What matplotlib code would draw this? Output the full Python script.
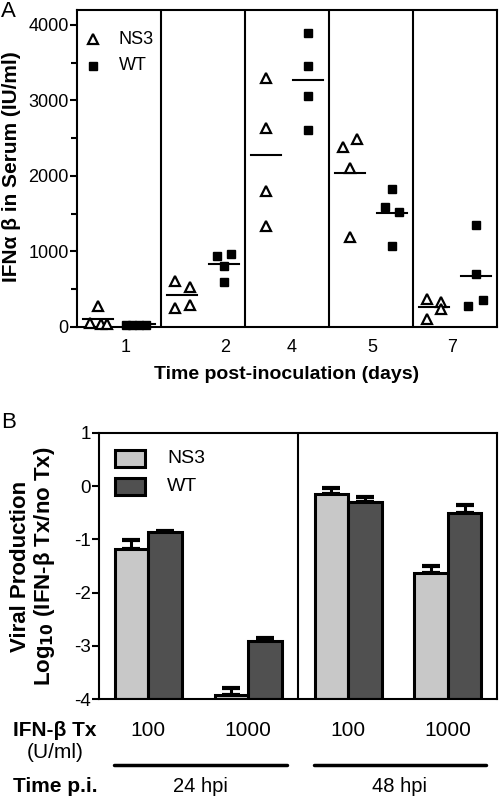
import matplotlib.pyplot as plt
import matplotlib.transforms as mtransforms

plt.rcParams['font.family'] = ['Liberation Sans', 'DejaVu Sans']

# Panel A data: IFN-alpha/beta in serum (IU/ml)
days = ['1', '2', '4', '5', '7']
ns3_values = [
    [275, 50, 40, 30],
    [606, 520, 245, 285],
    [3300, 2628, 1802, 1334],
    [2384, 2495, 2098, 1184],
    [363, 323, 98, 230],
]
wt_values = [
    [25, 25, 25, 25],
    [935, 970, 800, 590],
    [3900, 3457, 3060, 2605],
    [1824, 1581, 1524, 1073],
    [1343, 694, 278, 354],
]
ns3_means = [100, 415, 2275, 2044, 257]
wt_means = [30, 825, 3264, 1501, 671]

# Panel B data: log10 viral production
doses = ['100', '1000', '100', '1000']
times = ['24 hpi', '48 hpi']
ns3_log = [-1.19, -3.92, -0.14, -1.63]
ns3_err = [0.17, 0.12, 0.11, 0.13]
wt_log = [-0.87, -2.91, -0.30, -0.51]
wt_err = [0.03, 0.06, 0.10, 0.15]

# jitter offsets inside each section (layout only)
ns3_jit = [
    [0.25, 0.16, 0.28, 0.36],
    [0.17, 0.35, 0.17, 0.35],
    [0.25, 0.25, 0.25, 0.25],
    [0.17, 0.33, 0.25, 0.25],
    [0.17, 0.33, 0.17, 0.33],
]
wt_jit = [
    [0.58, 0.66, 0.74, 0.82],
    [0.67, 0.83, 0.75, 0.75],
    [0.75, 0.75, 0.75, 0.75],
    [0.75, 0.67, 0.83, 0.75],
    [0.75, 0.75, 0.65, 0.83],
]
tick_pos = [0.58, 1.76, 2.56, 3.52, 4.46]

fig = plt.figure(figsize=(5, 7.98), dpi=100)

# ---------- Panel A ----------
ax = fig.add_axes([0.154, 0.5906, 0.840, 0.397])
for i in range(len(days)):
    xs = [i + j for j in ns3_jit[i]]
    ax.plot(xs, ns3_values[i], linestyle='none', marker='^', ms=7.5,
            mfc='white', mec='black', mew=1.6, clip_on=False, zorder=3)
    xs = [i + j for j in wt_jit[i]]
    ax.plot(xs, wt_values[i], linestyle='none', marker='s', ms=6,
            color='black', clip_on=False, zorder=3)
    ax.plot([i + 0.07, i + 0.43], [ns3_means[i]] * 2, color='black', lw=1.5, zorder=2)
    ax.plot([i + 0.57, i + 0.93], [wt_means[i]] * 2, color='black', lw=1.5, zorder=2)
    if i > 0:
        ax.axvline(i, color='black', lw=1.5)

ax.set_xlim(0, len(days))
ax.set_ylim(0, 4200)
ax.set_yticks([0, 1000, 2000, 3000, 4000])
ax.set_yticks([500, 1500, 2500, 3500], minor=True)
ax.set_xticks(tick_pos)
ax.set_xticklabels(days)
ax.tick_params(axis='x', length=0, labelsize=13, pad=9)
ax.tick_params(axis='y', which='major', length=5, width=1.5, labelsize=13, pad=1)
ax.tick_params(axis='y', which='minor', length=4, width=1.5)
for s in ax.spines.values():
    s.set_linewidth(1.5)
ax.set_xlabel('Time post-inoculation (days)', fontsize=14, fontweight='bold', labelpad=7)
ax.set_ylabel('IFN\u03b1 \u03b2 in Serum (IU/ml)', fontsize=15, fontweight='bold', va='center')
ax.yaxis.set_label_coords(-0.157, 0.505)

ax.plot([0.19], [3810], marker='^', ms=7.5, mfc='white', mec='black', mew=1.6, linestyle='none')
ax.plot([0.19], [3460], marker='s', ms=6, color='black', linestyle='none')
ax.text(0.5, 3810, 'NS3', fontsize=13, va='center')
ax.text(0.5, 3460, 'WT', fontsize=13, va='center')

fig.text(0.002, 0.999, 'A', fontsize=16, va='top')

# ---------- Panel B ----------
bx = fig.add_axes([0.198, 0.124, 0.796, 0.3336])
w = 0.335
x = list(range(len(doses)))
bx.bar([p - w / 2 for p in x], [v + 4 for v in ns3_log], w, bottom=-4,
       color='#c8c8c8', edgecolor='black', linewidth=2.2, zorder=2)
bx.bar([p + w / 2 for p in x], [v + 4 for v in wt_log], w, bottom=-4,
       color='#505050', edgecolor='black', linewidth=2.2, zorder=2)
bx.errorbar([p - w / 2 for p in x], ns3_log, yerr=[[0] * 4, ns3_err], fmt='none',
            ecolor='black', elinewidth=2.2, capsize=6.5, capthick=3, zorder=1)
bx.errorbar([p + w / 2 for p in x], wt_log, yerr=[[0] * 4, wt_err], fmt='none',
            ecolor='black', elinewidth=2.2, capsize=6.5, capthick=3, zorder=1)
bx.axvline(1.5, color='black', lw=1.5)
bx.set_xlim(-0.49, 3.49)
bx.set_ylim(-4, 1)
bx.set_yticks([-4, -3, -2, -1, 0, 1])
bx.set_yticklabels(['-4', '-3', '-2', '-1', '0', '1'])
bx.set_xticks([])
bx.tick_params(axis='y', length=5, width=1.5, labelsize=13.5, pad=1)
for s in bx.spines.values():
    s.set_linewidth(1.5)
bx.set_ylabel('Viral Production\nLog$_{\\mathbf{10}}$ (IFN-\u03b2 Tx/no Tx)', fontsize=16,
              fontweight='bold', linespacing=1.05, va='center')
bx.yaxis.set_label_coords(-0.165, 0.5)

# legend
bx.add_patch(plt.Rectangle((-0.33, 0.35), 0.30, 0.32, facecolor='#c8c8c8', edgecolor='black',
                           lw=2.2, zorder=3))
bx.add_patch(plt.Rectangle((-0.33, -0.16), 0.30, 0.32, facecolor='#505050', edgecolor='black',
                           lw=2.2, zorder=3))
bx.text(0.19, 0.51, 'NS3', fontsize=14, va='center')
bx.text(0.19, 0.0, 'WT', fontsize=14, va='center')

# labels under the bars
trans = mtransforms.blended_transform_factory(bx.transData, fig.transFigure)
for p, d in zip(x, doses):
    bx.text(p, 1 - 731 / 798, d, transform=trans, fontsize=15, ha='center', va='center')
for k, t in enumerate(times):
    left = x[2 * k] - w - 0.01
    right = x[2 * k + 1] + w + 0.05
    bx.plot([left, right], [1 - 765 / 798] * 2, transform=trans, color='black', lw=2.5,
            clip_on=False, solid_capstyle='round')
    bx.text((left + right) / 2, 1 - 786 / 798, t, transform=trans, fontsize=14.5,
            ha='center', va='center')

fig.text(0.026, 1 - 731 / 798, 'IFN-\u03b2 Tx', fontsize=15, fontweight='bold', va='center')
fig.text(0.11, 1 - 753 / 798, '(U/ml)', fontsize=15, ha='center', va='center')
fig.text(0.026, 1 - 786 / 798, 'Time p.i.', fontsize=15, fontweight='bold', va='center')
fig.text(0.002, 1 - 422 / 798, 'B', fontsize=16, va='center')

fig.savefig('out.png', dpi=100)
